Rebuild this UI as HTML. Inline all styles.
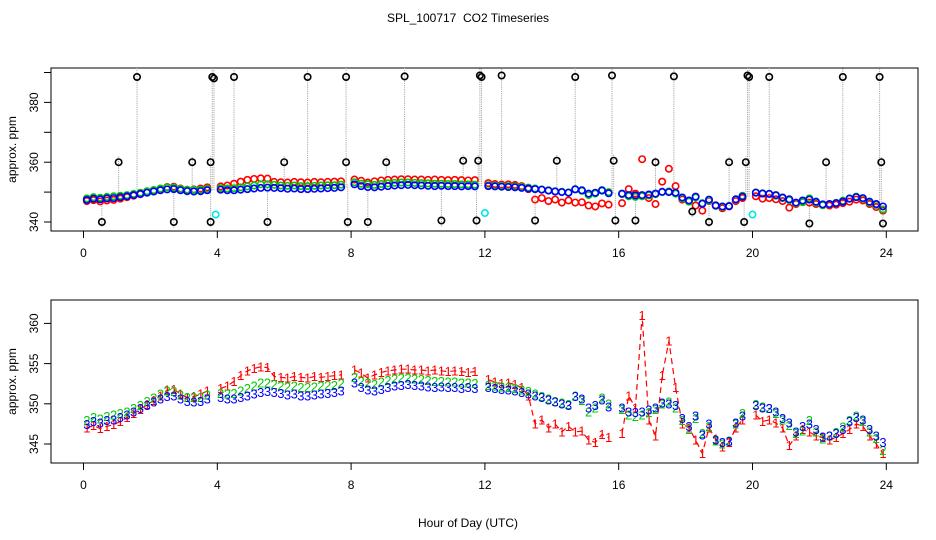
<!DOCTYPE html>
<html><head><meta charset="utf-8"><style>
html,body{margin:0;padding:0;background:#fff;}
svg{display:block;font-family:"Liberation Sans",Arial,sans-serif;}
</style></head><body>
<svg id="chart" width="936" height="540" xmlns="http://www.w3.org/2000/svg">
<text x="468" y="22" text-anchor="middle" font-size="12" style="white-space:pre">SPL_100717  CO2 Timeseries</text>
<text x="468" y="527" text-anchor="middle" font-size="12">Hour of Day (UTC)</text>
<g id="topPanel"></g>
<g id="botPanel"></g>
</svg>
<script>
const hours = [];
for (let i = 0; i < 120; i++) hours.push(+(0.1 + 0.2 * i).toFixed(1));
const seriesBlue = [347.4,347.8,347.6,347.9,348.0,348.3,348.6,349.0,349.4,349.8,
350.2,350.6,350.9,351.0,350.6,350.3,350.2,350.3,350.6,null,
350.8,350.6,350.6,350.8,351.0,351.2,351.4,351.5,351.4,351.3,
351.1,351.2,351.0,351.0,351.1,351.2,351.3,351.4,351.6,null,
352.6,352.0,351.7,351.6,351.8,352.0,352.2,352.3,352.4,352.3,
352.2,352.1,352.0,352.1,352.0,352.0,351.9,352.0,351.9,null,
352.0,351.9,351.8,351.7,351.6,351.4,351.2,351.0,350.8,350.5,
350.2,350.0,349.8,350.9,350.6,349.5,349.8,350.5,349.6,null,
349.5,349.0,348.9,349.0,349.2,349.5,350.1,350.0,349.8,348.2,
347.2,348.5,346.1,347.5,345.5,345.2,345.3,347.6,348.5,null,
349.8,349.5,349.4,349.0,348.2,347.6,346.5,347.2,347.5,346.8,
345.9,346.0,346.3,346.8,347.8,348.3,348.0,346.8,346.0,345.2];
const seriesGreen = [347.9,348.3,348.1,348.4,348.6,348.8,349.0,349.4,349.8,350.3,
350.7,351.2,351.6,351.5,351.1,350.8,350.8,350.8,351.1,null,
351.3,351.2,351.3,351.6,351.9,352.2,352.6,352.6,352.4,352.2,
352.1,352.2,352.0,352.0,352.1,352.2,352.3,352.3,352.5,null,
353.3,352.8,352.6,352.4,352.7,352.9,353.1,353.2,353.2,353.1,
353.0,352.9,352.8,352.8,352.7,352.7,352.6,352.6,352.5,null,
352.3,352.2,352.1,352.0,351.9,351.7,351.5,351.2,350.9,350.6,
350.3,350.1,349.9,351.0,350.4,349.0,349.5,350.7,350.0,null,
349.3,348.6,348.4,348.6,348.9,349.3,350.0,350.2,349.5,347.9,
346.8,348.2,346.3,347.2,345.4,345.0,345.4,347.5,348.8,null,
349.9,349.6,349.4,348.8,348.0,347.3,346.3,346.6,347.9,346.5,
345.6,346.0,346.4,347.1,347.9,348.5,347.8,346.5,345.7,344.2];
const seriesRed = [347.0,347.3,346.9,347.2,347.4,347.8,348.3,348.8,349.3,349.9,
350.4,351.0,351.7,351.8,351.2,350.8,350.9,351.2,351.6,null,
351.9,352.2,352.8,353.5,354.1,354.4,354.6,354.5,353.4,353.3,
353.2,353.4,353.3,353.2,353.4,353.3,353.4,353.5,353.6,null,
354.2,353.8,353.2,353.6,353.9,354.1,354.2,354.3,354.3,354.2,
354.2,354.1,354.2,354.1,354.0,354.1,354.0,353.9,354.0,null,
353.0,352.7,352.5,352.6,352.4,352.0,351.0,347.5,348.0,347.0,
347.5,346.5,347.2,346.5,346.6,345.5,345.2,346.2,345.8,null,
346.3,351.0,349.5,361.0,348.0,346.0,353.5,357.8,352.0,347.5,
347.0,345.5,343.8,347.0,345.6,344.6,345.2,347.0,348.0,null,
348.6,347.8,348.0,347.6,347.0,344.8,346.0,346.8,346.5,346.0,
345.8,345.5,345.8,346.3,346.8,347.5,347.2,346.0,345.0,343.8];
const outlierHours = [0.55,1.05,1.6,2.7,3.25,3.8,3.8,3.85,3.9,4.5,5.5,6.0,6.7,7.85,7.85,7.9,8.5,9.05,9.6,10.7,11.35,11.75,11.8,11.85,11.9,12.5,13.5,14.15,14.7,15.8,15.85,15.9,16.5,17.1,17.65,18.2,18.7,19.3,19.75,19.8,19.85,19.9,20.5,21.7,22.2,22.7,23.8,23.85,23.9];
const outlierValues = [340,360,388.5,340,360,340,360,388.5,388,388.5,340,360,388.5,388.5,360,340,340,360,388.7,340.5,360.5,340.5,360.5,389,388.5,389,340.5,360.5,388.5,389,360.5,340.5,340.5,360,388.7,343.5,340,360,340,360,389,388.5,388.5,339.5,360,388.5,388.5,360,339.5];
const calHours = [3.95,12.0,20.0];
const calValues = [342.5,343,342.5];
const xTicks = [0,4,8,12,16,20,24];
const topYTicks = [340,350,360,370,380,390];
const topYLabels = [340,360,380];
const botYTicks = [345,350,355,360];

const NS="http://www.w3.org/2000/svg";
function mk(parent,tag,attrs){const e=document.createElementNS(NS,tag);for(const k in attrs)e.setAttribute(k,attrs[k]);parent.appendChild(e);return e;}
const L=51,R=918;
const xs=h=>83.5+h*33.45;
const topY=v=>222-(v-340)*2.99, TT=68, TB=231;
const botY=v=>444-(v-345)*8.04, BT=300, BB=463;
function nearestBlue(h){let best=0;for(let i=0;i<hours.length;i++){if(seriesBlue[i]!=null&&Math.abs(hours[i]-h)<Math.abs(hours[best]-h))best=i;}return seriesBlue[best];}

function axes(g,T,B,yf,ticks,labels,nm){
  const box=mk(g,'rect',{x:L,y:T,width:R-L,height:B-T,fill:'none',stroke:'#000','stroke-width':1});
  
  
  xTicks.forEach(t=>{
    const l=mk(g,'line',{x1:xs(t),x2:xs(t),y1:B,y2:B+7,stroke:'#000'});
    
    
    const tx=mk(g,'text',{x:xs(t),y:B+26,'text-anchor':'middle','font-size':12});
    tx.textContent=t;
    
    
  });
  ticks.forEach(t=>{
    const l=mk(g,'line',{x1:L-7,x2:L,y1:yf(t),y2:yf(t),stroke:'#000'});
    
    
  });
  labels.forEach(t=>{
    const tx=mk(g,'text',{x:0,y:0,'text-anchor':'middle','font-size':12,transform:`translate(${L-13},${yf(t)}) rotate(-90)`});
    tx.textContent=t;
    
    
  });
  const yt=mk(g,'text',{x:0,y:0,'text-anchor':'middle','font-size':12,transform:`translate(16,${(T+B)/2}) rotate(-90)`});
  yt.textContent='approx. ppm';
  
  
}

// TOP PANEL
const topG=document.getElementById('topPanel');
axes(topG,TT,TB,topY,topYTicks,topYLabels,'top');
outlierHours.forEach((h,i)=>{
  const v=outlierValues[i], d=nearestBlue(h);
  let y1,y2;
  if(v>380){y1=topY(d);y2=TT;}
  else if(v>d){y1=topY(d);y2=topY(v+2);}
  else{y1=topY(d);y2=Math.min(TB,topY(v-2));}
  const l=mk(topG,'line',{x1:xs(h),x2:xs(h),y1:y1,y2:y2,stroke:'#aaa','stroke-dasharray':'1.2,1','stroke-width':1});
  
  
});
[[seriesRed,'#ff0000','red'],[seriesGreen,'#00cc00','green'],[seriesBlue,'#0000ff','blue']].forEach(([s,c,n])=>{
  s.forEach((v,i)=>{if(v==null)return;
    const p=mk(topG,'circle',{cx:xs(hours[i]),cy:topY(v),r:3.2,fill:'none',stroke:c,'stroke-width':1.6});
    
    
  });
});
outlierHours.forEach((h,i)=>{
  const p=mk(topG,'circle',{cx:xs(h),cy:topY(outlierValues[i]),r:3.2,fill:'none',stroke:'#000','stroke-width':1.6});
  
  
});
calHours.forEach((h,i)=>{
  const p=mk(topG,'circle',{cx:xs(h),cy:topY(calValues[i]),r:3.2,fill:'none',stroke:'#00e5e5','stroke-width':1.6});
  
  
});

// BOTTOM PANEL
const botG=document.getElementById('botPanel');
axes(botG,BT,BB,botY,botYTicks,botYTicks,'bottom');
let seg=[];const segs=[];
seriesRed.forEach((v,i)=>{if(v==null){if(seg.length)segs.push(seg);seg=[];}else seg.push(xs(hours[i]).toFixed(1)+','+botY(v).toFixed(1));});
if(seg.length)segs.push(seg);
segs.forEach(s=>{
  const pl=mk(botG,'polyline',{points:s.join(' '),fill:'none',stroke:'#ff0000','stroke-width':1.2,'stroke-dasharray':'6,4'});
  
  
});
[[seriesRed,'#ff0000','1'],[seriesGreen,'#00cc00','2'],[seriesBlue,'#0000ff','3']].forEach(([s,c,ch])=>{
  s.forEach((v,i)=>{if(v==null)return;
    const t=mk(botG,'text',{x:xs(hours[i]),y:botY(v)+4.5,'text-anchor':'middle','font-size':13,fill:c});
    t.textContent=ch;
    
    
  });
});
</script>
</body></html>
